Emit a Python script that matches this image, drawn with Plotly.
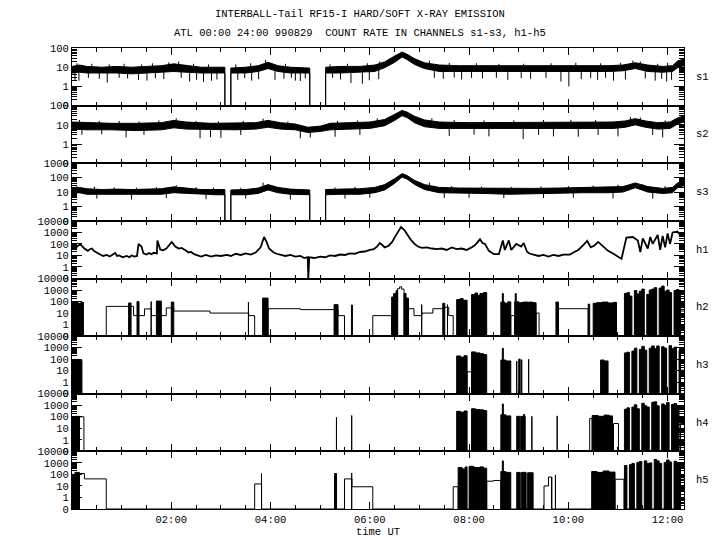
import numpy as np
import plotly.graph_objects as go
from plotly.subplots import make_subplots

TITLE_LINE_1 = "INTERBALL-Tail RF15-I HARD/SOFT X-RAY EMISSION"
TITLE_LINE_2 = "ATL 00:00 24:00 990829  COUNT RATE IN CHANNELS s1-s3, h1-h5"
X_TITLE = "time UT"
CHANNELS = ["s1", "s2", "s3", "h1", "h2", "h3", "h4", "h5"]
DECADES_TOP = [2, 2, 3, 4, 4, 4, 4, 4]
HOUR_TICKS = [2, 4, 6, 8, 10, 12]
HOUR_LABELS = ["02:00", "04:00", "06:00", "08:00", "10:00", "12:00"]
T_MAX = 12.33
ZERO_LEVEL = 0.1  # a count of 0 is drawn at the "0" tick

# ---- soft channels: envelope of the dense noisy band (upper / lower) ----
S1_T = [0.00, 0.15, 0.30, 0.60, 0.90, 1.20, 1.50, 1.80, 2.05, 2.30, 2.60, 2.90, 3.08, 3.08, 3.20,
        3.20, 3.50, 3.75, 3.95, 4.15, 4.40, 4.79, 4.79, 5.11, 5.11, 5.40, 5.80, 6.10, 6.30, 6.50,
        6.65, 6.75, 6.90, 7.10, 7.40, 7.80, 8.30, 8.80, 9.30, 9.80, 10.30, 10.80, 11.10, 11.35, 11.60,
        11.90, 12.10, 12.20, 12.33]
S1_HI = [11, 13, 11, 10, 11, 10, 11, 12, 15, 12, 10, 10, 10, 0, 0,
         9, 10, 12, 18, 12, 10, 9, 0, 0, 10, 11, 11, 13, 19, 38,
         62, 47, 28, 17, 13, 12, 12, 11, 11, 12, 12, 12, 13, 17, 13,
         11, 12, 21, 27]
S1_LO = [5, 5.5, 5, 5, 5, 4.5, 5, 5.5, 6, 5.5, 5, 5, 5, 0, 0,
         5, 5, 6, 8.5, 6, 5, 5, 0, 0, 5, 5, 5.5, 6, 9.5, 18,
         34, 25, 14, 8.5, 6, 6, 6, 5.5, 5.5, 6, 6, 6, 6.5, 8.5, 6,
         5.5, 6, 9.5, 12]
S1_SPIKE_T = [0.06, 0.14, 0.33, 0.55, 0.71, 0.95, 1.12, 1.34, 1.51, 1.68, 1.85, 2.20, 2.37, 2.51, 2.65,
              2.81, 2.92, 3.34, 3.48, 3.62, 3.76, 4.09, 4.27, 4.42, 4.50, 4.60, 4.70, 5.25, 5.41, 5.62,
              5.85, 5.99, 6.18, 7.30, 7.48, 7.70, 7.85, 8.05, 8.27, 8.55, 8.78, 9.05, 9.24, 9.55, 9.85,
              10.01, 10.26, 10.45, 10.59, 10.75, 10.91, 11.15, 11.55, 11.75, 11.88, 11.98, 12.08]
S1_SPIKE_V = [2.0, 2.0, 2.8, 2.5, 1.6, 2.8, 2.6, 2.2, 2.0, 2.7, 2.4, 2.8, 1.8, 2.2, 1.7,
              2.0, 2.3, 2.2, 2.7, 2.0, 2.4, 2.2, 2.5, 2.8, 2.0, 1.9, 2.6, 2.8, 2.3, 1.5,
              1.4, 2.1, 2.4, 2.8, 2.5, 2.9, 2.3, 2.8, 2.6, 2.8, 2.2, 2.7, 2.5, 2.8, 1.8,
              1.0, 2.4, 2.7, 2.2, 2.8, 2.0, 2.3, 2.6, 2.0, 2.5, 1.8, 2.2]
S1_UP_T = [0.10, 0.40, 0.75, 1.05, 1.40, 1.62, 1.95, 2.15, 2.45, 2.75, 3.30, 3.60, 3.90, 4.30, 5.20,
           5.55, 5.95, 6.20, 7.20, 7.60, 8.15, 8.60, 9.10, 9.65, 10.15, 10.65, 11.05, 11.30, 11.45, 11.80,
           12.00]
S1_UP_V = [16, 15, 14, 15, 14, 16, 18, 20, 15, 14, 14, 16, 24, 15, 14,
           15, 16, 20, 22, 17, 16, 15, 15, 16, 17, 16, 17, 22, 20, 15,
           17]

S2_T = [0.00, 0.30, 0.80, 1.30, 1.80, 2.05, 2.30, 2.80, 3.30, 3.70, 3.95, 4.20, 4.50, 4.75, 5.00,
        5.20, 5.60, 6.00, 6.30, 6.50, 6.65, 6.75, 6.90, 7.10, 7.40, 8.00, 8.60, 9.20, 9.80, 10.40,
        10.90, 11.15, 11.35, 11.55, 11.80, 12.05, 12.20, 12.33]
S2_HI = [14, 13, 12, 12, 13, 17, 14, 12, 12, 13, 17, 13, 11, 7.5, 8.5,
         12, 13, 14, 19, 36, 56, 46, 28, 18, 14, 13, 13, 13, 14, 14,
         14, 16, 21, 16, 13, 14, 23, 29]
S2_LO = [6, 5.5, 5.5, 5, 5.5, 7, 6, 5.5, 5.5, 6, 7.5, 6, 5.5, 4, 4.5,
         5.5, 6, 6.5, 9, 17, 30, 24, 13, 8, 6.5, 6, 6, 6, 6.5, 6.5,
         6.5, 7.5, 10, 7.5, 6, 6.5, 11, 14]
S2_SPIKE_T = [0.20, 0.60, 1.09, 1.45, 2.58, 2.79, 3.00, 3.40, 4.60, 4.80, 5.30, 5.80, 7.60, 8.10, 8.40,
              9.09, 9.40, 9.70, 10.20, 10.60, 11.00, 11.70, 11.90]
S2_SPIKE_V = [3.0, 3.2, 2.2, 3.0, 2.0, 2.3, 2.1, 3.0, 2.0, 2.2, 2.4, 3.0, 2.6, 3.1, 2.5,
              1.8, 3.0, 2.5, 2.4, 3.0, 2.5, 3.0, 2.2]
S2_UP_T = [0.15, 0.55, 0.95, 1.35, 1.75, 2.10, 2.50, 2.95, 3.45, 3.85, 4.35, 5.35, 5.75, 6.15, 7.25,
           7.70, 8.30, 8.90, 9.50, 10.05, 10.55, 11.25, 11.45, 11.95]
S2_UP_V = [18, 16, 16, 15, 17, 22, 16, 15, 16, 21, 15, 16, 17, 22, 22,
           18, 17, 17, 18, 18, 18, 25, 24, 17]

S3_T = [0.00, 0.15, 0.30, 0.60, 0.90, 1.20, 1.50, 1.80, 2.05, 2.30, 2.60, 2.90, 3.08, 3.08, 3.20,
        3.20, 3.50, 3.75, 3.95, 4.15, 4.40, 4.79, 4.79, 5.11, 5.11, 5.40, 5.80, 6.10, 6.30, 6.50,
        6.65, 6.75, 6.90, 7.10, 7.40, 7.80, 8.30, 8.80, 9.30, 9.80, 10.30, 10.80, 11.10, 11.35, 11.60,
        11.90, 12.10, 12.20, 12.33]
S3_HI = [19, 21, 17, 15, 16, 15, 16, 17, 23, 18, 15, 15, 15, 0, 0,
         14, 15, 19, 33, 21, 16, 14, 0, 0, 15, 16, 17, 21, 33, 85,
         190, 140, 65, 33, 21, 19, 18, 17, 18, 19, 21, 21, 24, 43, 24,
         18, 21, 43, 58]
S3_LO = [8, 9, 7, 6.5, 7, 6.5, 7, 7, 9, 8, 7, 6.5, 6.5, 0, 0,
         6.5, 6.5, 8, 14, 9, 7, 6.5, 0, 0, 6.5, 7, 7, 9, 14, 40,
         110, 80, 34, 15, 9, 8, 8, 7, 7, 8, 9, 9, 10, 20, 10,
         8, 9, 20, 28]
S3_SPIKE_T = [0.50, 1.20, 1.90, 2.70, 3.50, 4.40, 5.50, 6.00, 7.50, 8.00, 8.70, 9.50, 10.10, 10.90, 11.70]
S3_SPIKE_V = [3.5, 3.0, 3.8, 3.2, 3.5, 3.0, 3.5, 4.0, 4.0, 4.0, 3.8, 3.8, 4.0, 3.6, 3.5]
S3_UP_T = [0.10, 0.45, 0.85, 1.30, 1.70, 2.10, 2.50, 2.85, 3.40, 3.85, 4.30, 5.30, 5.70, 6.20, 7.20,
           7.65, 8.25, 8.85, 9.45, 10.00, 10.50, 11.00, 11.50, 11.95]
S3_UP_V = [26, 24, 21, 20, 22, 30, 22, 20, 20, 45, 20, 21, 23, 30, 45,
           26, 24, 23, 24, 26, 28, 32, 35, 26]

# ---- h1: continuous count-rate curve ----
H1_T = [0.00, 0.04, 0.08, 0.12, 0.17, 0.21, 0.25, 0.32, 0.36, 0.40,
        0.44, 0.48, 0.52, 0.57, 0.63, 0.70, 0.76, 0.83, 0.87, 0.91,
        0.95, 1.02, 1.10, 1.16, 1.20, 1.26, 1.31, 1.34, 1.40, 1.44,
        1.50, 1.55, 1.60, 1.65, 1.71, 1.72, 1.76, 1.78, 1.84, 1.90,
        1.96, 2.01, 2.08, 2.15, 2.21, 2.26, 2.30, 2.35, 2.40, 2.46,
        2.52, 2.60, 2.70, 2.80, 2.90, 3.00, 3.12, 3.20, 3.30, 3.40,
        3.50, 3.60, 3.70, 3.80, 3.87, 3.92, 3.97, 4.05, 4.12, 4.20,
        4.30, 4.40, 4.50, 4.60, 4.68, 4.75, 4.76, 4.78, 4.88, 5.00,
        5.10, 5.20, 5.30, 5.40, 5.50, 5.60, 5.70, 5.80, 5.90, 6.00,
        6.08, 6.15, 6.20, 6.25, 6.30, 6.38, 6.45, 6.52, 6.58, 6.63,
        6.70, 6.76, 6.82, 6.90, 6.97, 7.05, 7.15, 7.25, 7.35, 7.45,
        7.55, 7.65, 7.75, 7.85, 7.95, 8.05, 8.12, 8.22, 8.27, 8.32,
        8.40, 8.50, 8.60, 8.68, 8.72, 8.80, 8.85, 8.95, 9.05, 9.10,
        9.17, 9.23, 9.30, 9.40, 9.50, 9.60, 9.70, 9.80, 9.90, 10.03,
        10.12, 10.20, 10.30, 10.38, 10.45, 10.52, 10.60, 10.70, 10.80, 10.90,
        11.00, 11.07, 11.17, 11.30, 11.40, 11.45, 11.50, 11.60, 11.65, 11.70,
        11.80, 11.85, 11.90, 11.95, 12.00, 12.05, 12.10, 12.20, 12.25, 12.33]
H1_V = [40, 55, 45, 70, 90, 60, 40, 25, 35, 40,
        25, 20, 15, 12, 9, 11, 8, 12, 16, 9,
        10, 7, 9, 7, 10, 8, 9, 100, 60, 15,
        12, 16, 13, 17, 15, 200, 60, 32, 28, 40,
        80, 150, 60, 40, 45, 30, 25, 18, 20, 13,
        10, 8, 11, 8, 10, 9, 11, 9, 14, 11,
        15, 12, 18, 50, 400, 150, 40, 20, 14, 12,
        9, 11, 8, 9, 6, 7, 0, 7, 6, 8,
        7, 10, 9, 12, 11, 15, 14, 20, 22, 30,
        35, 60, 120, 80, 50, 70, 150, 500, 1500, 3000,
        1500, 600, 250, 100, 60, 45, 50, 40, 35, 40,
        30, 50, 35, 40, 30, 50, 80, 250, 120, 100,
        25, 13, 13, 200, 30, 200, 30, 100, 60, 120,
        20, 14, 12, 9, 11, 8, 11, 9, 12, 12,
        20, 30, 80, 190, 50, 70, 150, 60, 25, 15,
        8, 5, 350, 400, 200, 20, 300, 40, 400, 100,
        600, 30, 500, 50, 800, 100, 1000, 1200, 600, 700]

# ---- h2..h5: sparse step levels plus dense bursts (start, end, top) ----
H2_STEP_T = [0.00, 0.23, 0.69, 1.24, 1.46, 1.60, 1.80, 1.90, 2.05, 2.78, 3.56, 3.68, 3.95, 4.60, 5.36,
             5.49, 6.06, 6.44, 6.56, 6.60, 6.64, 6.69, 6.78, 6.89, 7.05, 7.27, 7.51, 7.59, 7.68, 8.84,
             8.92, 9.19, 9.24, 9.35, 9.41, 9.80, 10.40, 12.26, 12.33]
H2_STEP_V = [0, 0, 38, 6, 23, 6, 6, 28, 15, 10, 6, 0, 24, 20, 6,
             0, 6, 0, 1300, 1900, 1200, 0, 24, 6, 10, 24, 32, 6, 0, 6,
             0, 10, 0, 10, 0, 24, 0, 15, 15]
H2_BURST_T0 = [0.00, 0.05, 0.12, 0.18, 1.14, 1.31, 1.595, 1.70, 2.00, 3.555, 3.84, 5.28, 5.63,
               6.44, 6.48, 6.53, 6.69, 6.73, 7.045, 7.47, 7.565,
               7.75, 7.82, 7.88, 8.05, 8.12, 8.17, 8.22, 8.29,
               8.64, 8.67, 8.72, 8.78, 8.92, 8.93, 9.00, 9.08, 9.20, 9.28,
               9.75, 10.40, 10.50, 10.57, 10.68, 10.80, 10.90]
H2_BURST_T1 = [0.05, 0.12, 0.18, 0.23, 1.19, 1.35, 1.61, 1.80, 2.05, 3.565, 3.95, 5.36, 5.65,
               6.48, 6.53, 6.56, 6.73, 6.78, 7.055, 7.51, 7.575,
               7.82, 7.88, 7.96, 8.12, 8.17, 8.22, 8.29, 8.355,
               8.72, 8.69, 8.78, 8.84, 9.00, 8.95, 9.08, 9.19, 9.28, 9.35,
               9.80, 10.43, 10.57, 10.68, 10.80, 10.90, 10.97]
H2_BURST_TOP = [60, 90, 70, 85, 75, 100, 100, 110, 90, 90, 200, 54, 50,
                250, 500, 900, 500, 200, 54, 70, 54,
                150, 180, 130, 400, 550, 350, 500, 600,
                90, 500, 70, 95, 95, 500, 80, 90, 90, 80,
                90, 60, 70, 80, 90, 75, 85]

H3_STEP_T = [0.00, 7.96, 8.05, 12.26, 12.33]
H3_STEP_V = [0, 8, 0, 11, 11]
H3_BURST_T0 = [0.00, 0.05, 0.12, 7.75, 7.83, 7.90, 8.05, 8.13, 8.22, 8.29,
               8.64, 8.67, 8.74, 8.96, 9.00, 9.06, 9.20, 10.65, 10.72]
H3_BURST_T1 = [0.05, 0.12, 0.20, 7.83, 7.90, 7.96, 8.13, 8.22, 8.29, 8.355,
               8.74, 8.69, 8.84, 8.975, 9.03, 9.075, 9.215, 10.72, 10.80]
H3_BURST_TOP = [70, 95, 80, 190, 150, 200, 430, 350, 300, 250,
                85, 870, 70, 70, 100, 90, 100, 85, 70]

H4_STEP_T = [0.00, 0.15, 0.24, 10.43, 10.48, 10.91, 11.01, 12.26, 12.33]
H4_STEP_V = [0, 100, 0, 70, 0, 26, 0, 26, 26]
H4_BURST_T0 = [0.00, 0.06, 5.328, 5.635, 7.75, 7.83, 7.90, 8.05, 8.13, 8.22, 8.29,
               8.64, 8.67, 8.74, 8.96, 9.04, 9.10, 9.265, 9.775,
               10.48, 10.60, 10.72, 10.82]
H4_BURST_T1 = [0.06, 0.15, 5.334, 5.648, 7.83, 7.90, 7.96, 8.13, 8.22, 8.29, 8.355,
               8.74, 8.69, 8.84, 9.02, 9.13, 9.12, 9.28, 9.785,
               10.60, 10.72, 10.82, 10.89]
H4_BURST_TOP = [80, 110, 90, 130, 300, 250, 320, 500, 420, 400, 350,
                150, 1300, 120, 110, 110, 160, 110, 120,
                130, 110, 140, 120]

H5_STEP_T = [0.00, 0.15, 0.25, 0.69, 3.68, 3.82, 5.49, 5.64, 6.06, 7.68, 7.78, 8.355, 8.49, 8.64,
             9.51, 9.60, 9.66, 10.94, 11.12, 12.26, 12.33]
H5_STEP_V = [0, 120, 41, 0, 15, 0, 41, 8.5, 0, 8.5, 0, 26, 30, 0,
             10, 60, 0, 38, 0, 38, 38]
H5_BURST_T0 = [0.00, 0.06, 3.818, 5.29, 5.635, 7.78, 7.86, 7.92, 8.00, 8.10, 8.22, 8.29,
               8.64, 8.67, 8.74, 8.96, 9.05, 9.18, 9.665, 9.74,
               10.47, 10.58, 10.70, 10.82]
H5_BURST_T1 = [0.06, 0.15, 3.828, 5.33, 5.645, 7.86, 7.92, 7.96, 8.10, 8.22, 8.29, 8.355,
               8.74, 8.69, 8.84, 9.03, 9.15, 9.29, 9.675, 9.75,
               10.58, 10.70, 10.82, 10.94]
H5_BURST_TOP = [100, 150, 120, 120, 130, 400, 300, 450, 500, 400, 450, 350,
                180, 1500, 150, 150, 150, 140, 60, 90,
                180, 150, 200, 160]

# dense spiky stretch at the end of the interval: segment starts and per-channel tops (0 = gap)
END_T0 = [11.13, 11.18, 11.23, 11.28, 11.33, 11.38, 11.43, 11.48, 11.53, 11.58, 11.63, 11.68,
          11.73, 11.78, 11.83, 11.88, 11.93, 11.98, 12.03, 12.08, 12.13, 12.18, 12.23]
END_T_LAST = 12.26
H2_END_TOP = [500, 600, 300, 0, 900, 450, 800, 1200, 0, 420, 1000, 1200,
              1600, 0, 1500, 2200, 800, 1000, 600, 0, 900, 1100, 700]
H3_END_TOP = [350, 400, 0, 500, 900, 0, 700, 1300, 600, 0, 900, 1400,
              800, 1400, 0, 1200, 900, 0, 1500, 800, 1100, 0, 600]
H4_END_TOP = [450, 600, 0, 700, 1100, 500, 0, 1500, 900, 700, 0, 1800,
              2000, 900, 0, 1300, 1000, 1700, 0, 1200, 1400, 800, 0]
H5_END_TOP = [600, 0, 700, 900, 0, 1100, 1300, 0, 1500, 900, 1000, 0,
              2000, 1500, 900, 0, 1100, 1800, 1200, 0, 1400, 1000, 700]

FONT = dict(family="Liberation Mono, DejaVu Sans Mono, monospace", size=10.5, color="black")
INK = "black"

fig = make_subplots(rows=8, cols=1, shared_xaxes=True, vertical_spacing=0)


def lift(vals):
    return [ZERO_LEVEL if v == 0 else v for v in vals]


def check(*lists):
    n = len(lists[0])
    for l in lists:
        if len(l) != n:
            raise ValueError("length mismatch")


def add_band(row, t, hi, lo):
    check(t, hi, lo)
    x = list(t) + list(t)[::-1]
    y = lift(hi) + lift(lo)[::-1]
    fig.add_trace(go.Scatter(x=x, y=y, mode="lines", fill="toself", fillcolor=INK,
                             line=dict(color=INK, width=1), hoverinfo="skip"), row=row, col=1)


def add_spikes(row, t, v, band_t, band_edge):
    check(t, v)
    x, y = [], []
    for ti, vi in zip(t, v):
        edge = float(np.interp(ti, band_t, band_edge))
        x += [ti, ti, None]
        y += [vi, edge, None]
    fig.add_trace(go.Scatter(x=x, y=y, mode="lines", line=dict(color=INK, width=1),
                             hoverinfo="skip"), row=row, col=1)


def add_steps(row, t, v):
    check(t, v)
    fig.add_trace(go.Scatter(x=t, y=lift(v), mode="lines",
                             line=dict(color=INK, width=1, shape="hv"), hoverinfo="skip"),
                  row=row, col=1)


def add_bursts(row, t0s, t1s, tops):
    check(t0s, t1s, tops)
    x, y = [], []
    for a, b, h in zip(t0s, t1s, tops):
        if h == 0:
            continue
        x += [a, a, b, b, a, None]
        y += [ZERO_LEVEL, h, h, ZERO_LEVEL, ZERO_LEVEL, None]
    fig.add_trace(go.Scatter(x=x, y=y, mode="lines", fill="toself", fillcolor=INK,
                             line=dict(color=INK, width=1), hoverinfo="skip"), row=row, col=1)


for row, t, hi, lo, dt, dv, ut, uv in [
    (1, S1_T, S1_HI, S1_LO, S1_SPIKE_T, S1_SPIKE_V, S1_UP_T, S1_UP_V),
    (2, S2_T, S2_HI, S2_LO, S2_SPIKE_T, S2_SPIKE_V, S2_UP_T, S2_UP_V),
    (3, S3_T, S3_HI, S3_LO, S3_SPIKE_T, S3_SPIKE_V, S3_UP_T, S3_UP_V),
]:
    add_band(row, t, hi, lo)
    add_spikes(row, dt, dv, t, lo)
    add_spikes(row, ut, uv, t, hi)

check(H1_T, H1_V)
fig.add_trace(go.Scatter(x=H1_T, y=lift(H1_V), mode="lines",
                         line=dict(color=INK, width=1.8), hoverinfo="skip"), row=4, col=1)

END_T1 = END_T0[1:] + [END_T_LAST]
for row, st, sv, b0, b1, bt, et in [
    (5, H2_STEP_T, H2_STEP_V, H2_BURST_T0, H2_BURST_T1, H2_BURST_TOP, H2_END_TOP),
    (6, H3_STEP_T, H3_STEP_V, H3_BURST_T0, H3_BURST_T1, H3_BURST_TOP, H3_END_TOP),
    (7, H4_STEP_T, H4_STEP_V, H4_BURST_T0, H4_BURST_T1, H4_BURST_TOP, H4_END_TOP),
    (8, H5_STEP_T, H5_STEP_V, H5_BURST_T0, H5_BURST_T1, H5_BURST_TOP, H5_END_TOP),
]:
    add_steps(row, st, sv)
    add_bursts(row, b0 + END_T0, b1 + END_T1, bt + et)

minor_hours = [h / 2 for h in range(1, int(T_MAX * 2) + 1) if (h / 2) not in HOUR_TICKS]

for i, top in enumerate(DECADES_TOP):
    row = i + 1
    major = [ZERO_LEVEL] + [10 ** k for k in range(0, top + 1)]
    labels = ["0"] + [str(10 ** k) for k in range(0, top + 1)]
    minor = [m * 10 ** k for k in range(-1, top) for m in range(2, 10)]
    fig.update_yaxes(type="log", range=[-1, top], tickvals=major, ticktext=labels,
                     ticks="inside", ticklen=10, tickwidth=1, tickcolor=INK,
                     showline=True, linecolor=INK, linewidth=1, mirror="allticks",
                     showgrid=False, zeroline=False, tickfont=FONT, automargin=False,
                     minor=dict(tickvals=minor, ticks="inside", ticklen=5, tickwidth=1,
                                tickcolor=INK, showgrid=False),
                     row=row, col=1)
    fig.update_xaxes(range=[0, T_MAX], tickvals=HOUR_TICKS, ticktext=HOUR_LABELS,
                     ticks="inside", ticklen=7, tickwidth=1, tickcolor=INK,
                     showline=True, linecolor=INK, linewidth=1, mirror="allticks",
                     showgrid=False, zeroline=False, tickfont=FONT, automargin=False,
                     minor=dict(tickvals=minor_hours, ticks="inside", ticklen=4, tickwidth=1,
                                tickcolor=INK, showgrid=False),
                     row=row, col=1)
    fig.add_annotation(text=CHANNELS[i], xref="paper", yref="paper",
                       x=1.016, y=1 - (i + 0.5) / 8, xanchor="left", yanchor="middle",
                       showarrow=False, font=FONT)

fig.update_xaxes(title=dict(text=X_TITLE, font=FONT, standoff=2), row=8, col=1)

fig.add_annotation(text=TITLE_LINE_1, xref="paper", yref="paper", x=0.4706, y=1.0738,
                   xanchor="center", yanchor="middle", showarrow=False, font=FONT)
fig.add_annotation(text=TITLE_LINE_2, xref="paper", yref="paper", x=0.4706, y=1.0325,
                   xanchor="center", yanchor="middle", showarrow=False, font=FONT)

# the page adds an 8 px body margin, so the figure is 8 px smaller and its
# left/top margins 8 px narrower to keep the plot area where the reference has it
fig.update_layout(width=712, height=542, margin=dict(l=64, r=36, t=40, b=41),
                  paper_bgcolor="white", plot_bgcolor="white", showlegend=False,
                  font=FONT)

fig.write_html("out.html")
